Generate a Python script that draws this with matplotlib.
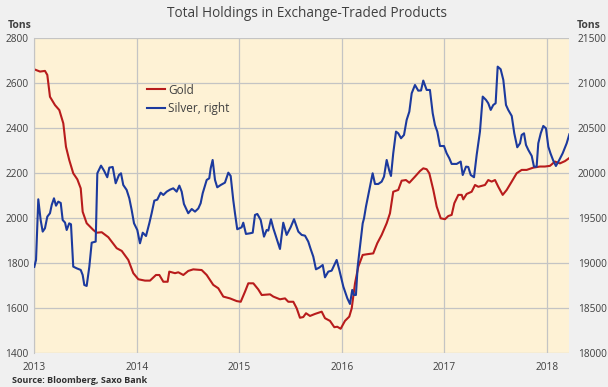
import matplotlib
matplotlib.use("Agg")
import matplotlib.pyplot as plt

plt.rcParams['font.family'] = ['Open Sans', 'DejaVu Sans']

# ETF holdings, dates as decimal years
gold_t = [2013.000, 2013.056, 2013.104, 2013.127, 2013.153, 2013.202, 2013.244, 2013.283,
          2013.309, 2013.341, 2013.380, 2013.420, 2013.453, 2013.472, 2013.511, 2013.576,
          2013.609, 2013.658, 2013.722, 2013.804, 2013.853, 2013.917, 2013.966, 2014.015,
          2014.080, 2014.129, 2014.187, 2014.220, 2014.259, 2014.301, 2014.317, 2014.373,
          2014.405, 2014.454, 2014.502, 2014.551, 2014.633, 2014.682, 2014.746, 2014.795,
          2014.844, 2014.909, 2014.975, 2015.014, 2015.056, 2015.088, 2015.137, 2015.185,
          2015.219, 2015.300, 2015.332, 2015.397, 2015.446, 2015.478, 2015.527, 2015.560,
          2015.592, 2015.624, 2015.651, 2015.690, 2015.739, 2015.804, 2015.836, 2015.885,
          2015.927, 2015.956, 2015.989, 2016.031, 2016.073, 2016.097, 2016.129, 2016.161,
          2016.204, 2016.243, 2016.307, 2016.346, 2016.389, 2016.438, 2016.470, 2016.502,
          2016.551, 2016.584, 2016.626, 2016.659, 2016.714, 2016.763, 2016.795, 2016.828,
          2016.854, 2016.893, 2016.926, 2016.965, 2017.007, 2017.039, 2017.072, 2017.098,
          2017.137, 2017.170, 2017.185, 2017.218, 2017.267, 2017.300, 2017.332, 2017.397,
          2017.429, 2017.462, 2017.495, 2017.527, 2017.570, 2017.609, 2017.658, 2017.706,
          2017.755, 2017.804, 2017.868, 2017.934, 2017.982, 2018.031, 2018.080, 2018.128,
          2018.177, 2018.220]
gold = [2662, 2652, 2655, 2637, 2540, 2503, 2481, 2422,
        2318, 2259, 2200, 2173, 2133, 2029, 1978, 1948,
        1936, 1938, 1916, 1867, 1855, 1815, 1756, 1729,
        1723, 1723, 1748, 1748, 1718, 1718, 1763, 1756,
        1760, 1748, 1766, 1773, 1770, 1748, 1704, 1689,
        1652, 1644, 1632, 1629, 1674, 1711, 1711, 1684,
        1659, 1662, 1652, 1640, 1644, 1629, 1629, 1600,
        1558, 1561, 1578, 1566, 1575, 1585, 1556, 1544,
        1516, 1518, 1509, 1544, 1563, 1600, 1711, 1785,
        1837, 1840, 1844, 1889, 1926, 1978, 2022, 2118,
        2126, 2167, 2170, 2158, 2185, 2210, 2222, 2218,
        2200, 2126, 2052, 2000, 1996, 2010, 2015, 2067,
        2104, 2104, 2084, 2108, 2118, 2148, 2140, 2148,
        2170, 2163, 2170, 2140, 2104, 2126, 2163, 2200,
        2215, 2215, 2225, 2230, 2230, 2233, 2252, 2244,
        2254, 2268]

silver_t = [2013.000, 2013.017, 2013.039, 2013.062, 2013.082, 2013.104, 2013.127, 2013.153,
            2013.170, 2013.192, 2013.212, 2013.234, 2013.258, 2013.277, 2013.300, 2013.316,
            2013.341, 2013.358, 2013.380, 2013.414, 2013.453, 2013.472, 2013.488, 2013.511,
            2013.537, 2013.560, 2013.599, 2013.615, 2013.651, 2013.680, 2013.712, 2013.732,
            2013.765, 2013.794, 2013.826, 2013.846, 2013.868, 2013.901, 2013.927, 2013.950,
            2013.973, 2014.005, 2014.031, 2014.058, 2014.090, 2014.122, 2014.145, 2014.171,
            2014.200, 2014.233, 2014.259, 2014.292, 2014.324, 2014.356, 2014.389, 2014.415,
            2014.438, 2014.460, 2014.502, 2014.536, 2014.568, 2014.600, 2014.623, 2014.643,
            2014.682, 2014.707, 2014.721, 2014.740, 2014.763, 2014.785, 2014.819, 2014.860,
            2014.893, 2014.916, 2014.941, 2014.958, 2014.980, 2015.023, 2015.039, 2015.065,
            2015.104, 2015.131, 2015.153, 2015.176, 2015.209, 2015.241, 2015.267, 2015.283,
            2015.309, 2015.332, 2015.358, 2015.397, 2015.429, 2015.462, 2015.501, 2015.534,
            2015.576, 2015.609, 2015.641, 2015.673, 2015.697, 2015.722, 2015.748, 2015.780,
            2015.814, 2015.836, 2015.868, 2015.901, 2015.927, 2015.950, 2015.976, 2016.015,
            2016.054, 2016.080, 2016.102, 2016.119, 2016.138, 2016.155, 2016.178, 2016.204,
            2016.217, 2016.236, 2016.275, 2016.301, 2016.324, 2016.356, 2016.389, 2016.412,
            2016.438, 2016.463, 2016.480, 2016.502, 2016.529, 2016.551, 2016.578, 2016.607,
            2016.633, 2016.659, 2016.682, 2016.714, 2016.746, 2016.773, 2016.795, 2016.828,
            2016.860, 2016.887, 2016.909, 2016.932, 2016.958, 2016.997, 2017.023, 2017.049,
            2017.072, 2017.121, 2017.160, 2017.180, 2017.212, 2017.234, 2017.258, 2017.290,
            2017.316, 2017.348, 2017.375, 2017.407, 2017.429, 2017.453, 2017.478, 2017.501,
            2017.521, 2017.550, 2017.576, 2017.602, 2017.624, 2017.658, 2017.683, 2017.712,
            2017.739, 2017.755, 2017.778, 2017.797, 2017.820, 2017.853, 2017.875, 2017.901,
            2017.917, 2017.941, 2017.966, 2017.992, 2018.015, 2018.036, 2018.063, 2018.089,
            2018.122, 2018.155, 2018.194, 2018.220]
silver = [18960, 19037, 19711, 19481, 19352, 19389, 19518, 19556,
          19648, 19722, 19640, 19685, 19670, 19481, 19452, 19370,
          19444, 19433, 18963, 18944, 18926, 18870, 18759, 18748,
          18963, 19229, 19241, 20000, 20085, 20030, 19956, 20063,
          20070, 19889, 19981, 20000, 19870, 19815, 19722, 19592,
          19444, 19370, 19222, 19340, 19303, 19444, 19556, 19696,
          19707, 19785, 19759, 19796, 19818, 19833, 19796, 19863,
          19796, 19659, 19556, 19603, 19574, 19609, 19667, 19778,
          19926, 19944, 20056, 20148, 19926, 19844, 19870, 19896,
          20007, 19970, 19704, 19556, 19378, 19400, 19451, 19326,
          19333, 19340, 19537, 19548, 19481, 19296, 19370, 19363,
          19489, 19389, 19296, 19159, 19451, 19315, 19400, 19490,
          19352, 19315, 19307, 19241, 19156, 19074, 18933, 18952,
          18981, 18844, 18907, 18918, 18981, 19037, 18926, 18741,
          18611, 18548, 18704, 18648, 18648, 18963, 19185, 19444,
          19500, 19630, 19852, 20000, 19881, 19881, 19907, 19963,
          20148, 20030, 19970, 20222, 20463, 20444, 20389, 20426,
          20593, 20685, 20889, 20981, 20918, 20920, 21030, 20926,
          20926, 20667, 20537, 20463, 20303, 20303, 20222, 20167,
          20104, 20104, 20130, 19981, 20074, 20070, 19981, 19956,
          20204, 20463, 20852, 20815, 20778, 20704, 20759, 20778,
          21185, 21156, 21037, 20759, 20704, 20637, 20444, 20289,
          20333, 20426, 20444, 20315, 20259, 20193, 20074, 20074,
          20333, 20444, 20526, 20500, 20296, 20222, 20141, 20081,
          20148, 20222, 20333, 20433]

years = [2013, 2014, 2015, 2016, 2017, 2018]
left_ticks = [1400, 1600, 1800, 2000, 2200, 2400, 2600, 2800]
right_ticks = [18000, 18500, 19000, 19500, 20000, 20500, 21000, 21500]

txt = '#404040'
grid_c = '#c4c4c4'

fig = plt.figure(figsize=(6.08, 3.87), dpi=100, facecolor='#f0f0f0')
ax = fig.add_axes([0.0564, 0.0871, 0.880, 0.814])
ax.set_facecolor('#fef2d5')
ax2 = ax.twinx()

l1, = ax.plot(gold_t, gold, color='#b81c1c', lw=1.5, label='Gold')
l2, = ax2.plot(silver_t, silver, color='#1c3a9e', lw=1.5, label='Silver, right')

ax.set_xlim(2013, 2018.22)
ax.set_ylim(1400, 2800)
ax2.set_ylim(18000, 21500)
ax.set_xticks(years)
ax.set_yticks(left_ticks)
ax2.set_yticks(right_ticks)
ax.grid(True, color=grid_c, lw=0.9)
ax.set_axisbelow(True)

for a in (ax, ax2):
    for s in a.spines.values():
        s.set_visible(False)
    a.tick_params(length=0, labelsize=7.3, colors=txt)
ax.spines['left'].set_visible(True)
ax.spines['left'].set_color(grid_c)
ax.tick_params(axis='y', pad=4)
ax2.tick_params(axis='y', pad=6)
ax.tick_params(axis='x', pad=6)

ax.legend(handles=[l1, l2], loc='upper left', bbox_to_anchor=(0.19, 0.89),
          frameon=False, fontsize=8.5, labelcolor=txt, handlelength=1.6,
          handletextpad=0.2, labelspacing=0.45)

fig.text(0.505, 0.965, 'Total Holdings in Exchange-Traded Products', ha='center',
         va='center', fontsize=9.8, color=txt)
fig.text(0.013, 0.935, 'Tons', fontsize=7.5, color=txt, va='center', fontweight='bold')
fig.text(0.948, 0.935, 'Tons', fontsize=7.5, color=txt, va='center', fontweight='bold')
fig.text(0.02, 0.018, 'Source: Bloomberg, Saxo Bank', fontsize=6.5, color='#303030',
         va='center', fontweight='bold')

fig.savefig('out.png', dpi=100, facecolor=fig.get_facecolor())
